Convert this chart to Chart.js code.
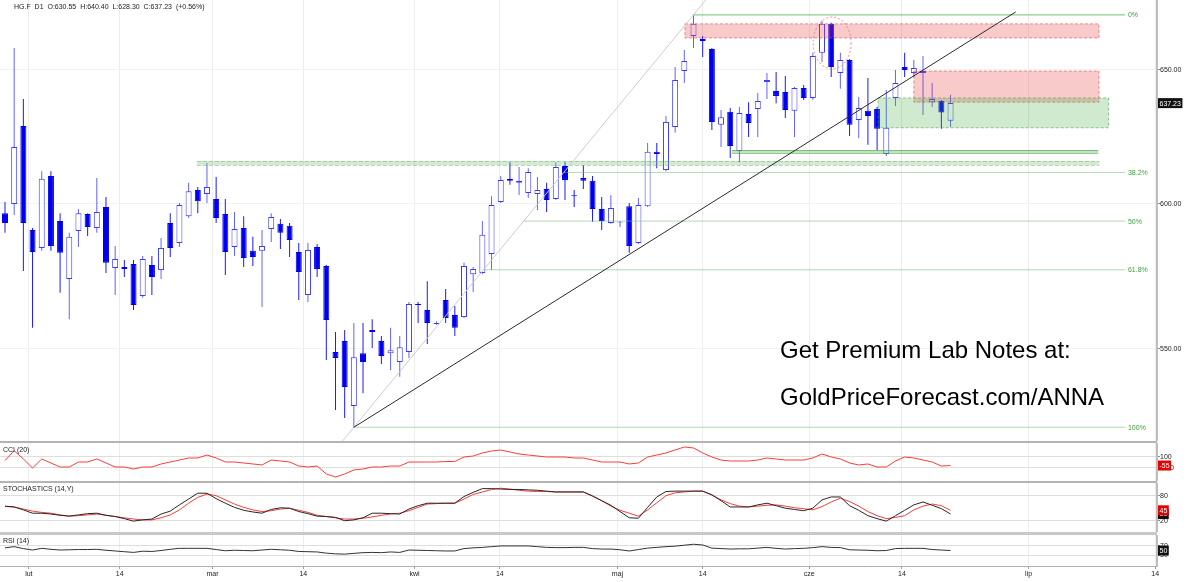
<!DOCTYPE html>
<html>
<head>
<meta charset="utf-8">
<title>HG.F D1</title>
<script src="https://cdn.jsdelivr.net/npm/chart.js@4.4.1/dist/chart.umd.min.js"></script>
<style>
    html, body { margin: 0; padding: 0; background: #fff; }
    #wrap { position: relative; width: 1200px; height: 582px; overflow: hidden; font-family: "Liberation Sans", Arial, sans-serif; }
    #wrap canvas { position: absolute; left: 0; }
    .sep { position: absolute; left: 0; width: 1157px; background: #b4b4b4; }
    .txt { position: absolute; font-size: 7px; line-height: 7px; color: #222; white-space: pre; }
    .promo { position: absolute; left: 780px; font-size: 24px; line-height: 24px; color: #000; white-space: pre; }
</style>
</head>
<body>
<div id="wrap">
    <canvas id="mainChart" width="1200" height="441" style="top:0"></canvas>
    <canvas id="cciChart" width="1200" height="38" style="top:443px"></canvas>
    <canvas id="stochChart" width="1200" height="49" style="top:483px"></canvas>
    <canvas id="rsiChart" width="1200" height="47" style="top:535px"></canvas>
    <div class="sep" style="top:441px;height:2px"></div>
    <div class="sep" style="top:481px;height:2px"></div>
    <div class="sep" style="top:532px;height:3px;background:#c8c8c8"></div>
    <div class="txt" id="header" style="left:14px;top:3px"></div>
    <div class="txt" style="left:3px;top:446px">CCI (20)</div>
    <div class="txt" style="left:3px;top:485px">STOCHASTICS (14,Y)</div>
    <div class="txt" style="left:3px;top:537px">RSI (14)</div>
    <div class="promo" style="top:338px">Get Premium Lab Notes at:</div>
    <div class="promo" style="top:385px">GoldPriceForecast.com/ANNA</div>
</div>
<script>
// candle index positions of the month / mid-month ticks
const xTickPositions = [2.6, 12.5, 22.6, 32.5, 44.6, 53.9, 66.7, 76.0, 87.6, 97.7, 111.5, 125.3];
const xTickLabels = ['lut', '14', 'mar', '14', 'kwi', '14', 'maj', '14', 'cze', '14', 'lip', '14'];
const priceTicks = [550, 600, 650];
const cciTicks = [-100, 100];
const stochTicks = [20, 80];
const rsiTicks = [30, 70];

const opens = [
    596.6, 599.9, 628.6, 590.6, 584.3, 610.0, 593.8, 573.5, 590.3, 596.3,
    591.3, 598.8, 577.3, 577.7, 578.7, 567.7, 578.4, 576.6, 593.1, 586.0,
    595.5, 604.9, 603.5, 601.7, 596.3, 584.6, 591.3, 583.3, 583.3, 591.0,
    592.8, 592.1, 582.9, 568.1, 584.6, 578.0, 549.0, 552.6, 531.5, 548.6,
    556.3, 552.6, 548.6, 545.7, 549.0, 565.0, 563.0, 558.3, 566.4, 561.3,
    560.6, 575.2, 575.6, 582.2, 600.6, 609.0, 607.6, 603.8, 603.5, 605.3,
    601.7, 613.7, 603.0, 609.3, 608.3, 598.1, 593.1, 593.3, 599.1, 586.0,
    599.1, 618.9, 612.2, 628.2, 649.6, 663.4, 662.2, 658.2, 629.0, 633.9,
    619.2, 633.1, 635.0, 645.3, 641.9, 641.5, 634.3, 643.0, 639.2, 656.7,
    668.2, 648.8, 653.9, 630.8, 634.3, 635.0, 618.1, 639.2, 651.2, 648.8,
    648.8, 637.6, 638.0, 630.55,
];
const highs = [
    600.6, 658.6, 638.8, 591.3, 611.8, 611.8, 596.6, 589.6, 598.1, 596.6,
    609.3, 602.4, 585.0, 580.1, 580.1, 581.5, 581.5, 587.8, 596.6, 600.2,
    607.6, 606.0, 614.8, 609.7, 601.7, 597.0, 595.5, 588.2, 590.6, 596.6,
    594.5, 593.1, 586.0, 586.0, 585.7, 578.4, 555.6, 556.3, 558.6, 558.6,
    559.9, 554.3, 557.0, 554.3, 565.7, 565.7, 572.8, 559.2, 570.1, 564.3,
    579.1, 577.7, 593.8, 602.7, 610.0, 615.1, 613.3, 612.9, 609.7, 607.6,
    615.1, 615.1, 604.9, 614.0, 610.0, 602.4, 603.1, 593.8, 600.2, 602.0,
    622.2, 622.2, 632.3, 651.2, 657.8, 671.8, 663.4, 658.6, 634.6, 635.4,
    635.8, 637.6, 641.1, 648.8, 649.2, 647.7, 643.4, 644.2, 656.7, 669.4,
    668.6, 656.7, 654.3, 639.6, 646.9, 635.8, 642.3, 650.0, 656.7, 653.9,
    655.5, 645.0, 638.4, 640.40,
];
const lows = [
    589.6, 595.9, 576.3, 557.0, 583.3, 583.3, 568.8, 559.9, 584.6, 588.5,
    589.6, 575.6, 568.1, 574.2, 563.0, 567.1, 568.1, 573.5, 581.1, 584.6,
    594.9, 596.6, 600.2, 593.1, 574.9, 581.5, 577.7, 578.0, 564.0, 586.4,
    583.9, 581.1, 566.4, 565.7, 574.2, 546.4, 530.3, 527.7, 524.8, 535.6,
    550.3, 545.1, 543.1, 540.9, 547.0, 558.6, 551.6, 558.0, 558.6, 554.3,
    560.3, 569.1, 575.2, 576.6, 600.2, 606.8, 603.1, 602.0, 597.7, 597.0,
    601.3, 601.3, 598.8, 605.3, 593.5, 590.6, 592.8, 591.7, 582.6, 585.7,
    598.8, 612.9, 611.8, 626.0, 645.0, 658.6, 655.1, 627.1, 620.7, 616.6,
    615.1, 624.4, 624.4, 638.8, 637.2, 631.6, 624.4, 638.4, 638.4, 653.1,
    647.3, 642.7, 624.8, 624.0, 621.5, 619.6, 617.4, 636.1, 647.3, 647.3,
    632.7, 635.8, 627.5, 628.30,
];
const closes = [
    593.1, 620.7, 593.1, 582.9, 609.0, 585.0, 582.6, 588.2, 596.6, 591.7,
    597.0, 579.1, 580.4, 577.0, 564.7, 580.4, 574.2, 584.3, 584.3, 599.5,
    604.5, 600.9, 606.0, 594.9, 582.9, 591.0, 580.8, 581.1, 585.0, 595.2,
    589.6, 587.1, 575.9, 583.6, 577.0, 559.6, 547.0, 537.6, 547.3, 545.7,
    555.6, 547.7, 549.6, 550.6, 565.0, 564.7, 558.6, 558.6, 560.3, 557.0,
    578.0, 577.0, 588.9, 599.5, 608.6, 608.3, 608.3, 611.5, 604.9, 601.3,
    613.3, 608.6, 602.7, 608.3, 598.1, 593.8, 598.4, 593.5, 585.0, 599.5,
    618.9, 618.1, 630.1, 646.1, 653.5, 668.2, 661.4, 630.1, 631.9, 621.1,
    633.5, 629.7, 638.0, 646.1, 640.0, 634.6, 643.0, 639.2, 655.5, 668.2,
    651.2, 653.9, 629.0, 635.4, 632.3, 627.5, 627.9, 645.0, 650.0, 650.8,
    649.6, 638.8, 633.7, 637.23,
];

const cci = [
    36, 215, 64, -100, 64, -9, -82, -82, 9, 9,
    64, -9, -82, -82, -118, -82, -82, -27, 9, 45,
    82, 82, 136, 82, 9, 9, -9, -27, -45, 45,
    27, 9, -64, -82, -64, -209, -264, -209, -136, -118,
    -82, -82, -64, -64, 9, 9, 9, 9, 18, 18,
    100, 118, 173, 209, 227, 191, 155, 136, 118, 100,
    100, 100, 82, 82, 45, 9, 9, 9, -27, -9,
    100, 136, 173, 227, 282, 264, 173, 100, 45, 27,
    27, 27, 45, 82, 64, 45, 45, 45, 82, 155,
    100, 64, -9, -45, -27, -82, -82, 27, 100, 82,
    45, 9, -64, -55,
];
const stochK = [
    55, 53, 46, 38, 38, 36, 33, 31, 34, 37,
    38, 33, 30, 25, 19, 22, 24, 36, 43, 58,
    72, 86, 86, 73, 62, 52, 45, 41, 38, 47,
    51, 50, 42, 37, 31, 30, 28, 20, 22, 27,
    38, 38, 37, 36, 48, 56, 62, 62, 62, 62,
    78, 88, 97, 97, 96, 95, 95, 94, 93, 91,
    89, 89, 89, 89, 79, 68, 57, 42, 27, 26,
    52, 77, 90, 91, 91, 91, 91, 82, 68, 53,
    53, 53, 58, 62, 56, 50, 47, 44, 50, 70,
    77, 77, 56, 45, 32, 25, 19, 32, 45, 58,
    65, 57, 49, 36,
];
const stochD = [
    54, 53, 48, 43, 40, 38, 34, 31, 32, 34,
    36, 33, 30, 27, 24, 22, 22, 27, 34, 46,
    62, 76, 84, 80, 70, 60, 52, 46, 42, 44,
    48, 50, 45, 40, 33, 30, 27, 24, 24, 26,
    29, 33, 36, 38, 44, 52, 60, 61, 62, 62,
    72, 83, 89, 95, 98, 96, 93, 91, 90, 90,
    89, 89, 89, 89, 80, 68, 55, 45, 38, 31,
    46, 63, 80, 87, 89, 91, 91, 82, 70, 61,
    55, 53, 55, 57, 58, 55, 51, 49, 46, 54,
    65, 74, 66, 55, 42, 32, 25, 28, 32, 46,
    55, 60, 56, 45,
];
const rsi = [
    61, 66, 58, 52, 59, 55, 52, 53, 54, 54,
    55, 51, 48, 45, 42, 47, 46, 50, 55, 59,
    59, 59, 59, 54, 49, 51, 50, 49, 52, 55,
    53, 51, 46, 45, 44, 39, 36, 35, 38, 41,
    42, 41, 44, 42, 52, 51, 50, 49, 48, 48,
    58, 61, 63, 66, 69, 69, 69, 69, 66, 63,
    62, 62, 63, 63, 58, 56, 56, 53, 48, 54,
    60, 63, 66, 68, 72, 76, 73, 60, 58, 56,
    57, 57, 60, 63, 59, 56, 58, 59, 62, 66,
    63, 62, 53, 52, 51, 49, 50, 58, 59, 59,
    59, 54, 52, 50,
];

// drawing tools
const fibRatios = [0, 0.382, 0.5, 0.618, 1];
const fibLabels = ['0%', '38.2%', '50%', '61.8%', '100%'];
const fibLowIndex = 38;
const fibHighIndex = 75;
const fibEndIndex = 122;
const trendEnd = { x: 110.1, y: 673.0 };
const resistanceZones = [
    { from: 74.07, to: 119.17, low: 662.6, high: 668.2 },
    { from: 99.0, to: 119.17, low: 637.6, high: 649.6 },
];
const supportZones = [
    { from: 95.1, to: 120.2, low: 627.9, high: 639.2 },
];
const supportBands = [
    { from: 79.2, to: 119.1, low: 618.5, high: 619.6 },
    { from: 20.9, to: 119.2, low: 614.0, high: 615.5 },
];
const markedTop = { x: 90.1, y: 660.6 };

window.addEventListener('DOMContentLoaded', () => {
    Chart.defaults.font.family = '"Liberation Sans", Arial, sans-serif';
    Chart.defaults.font.size = 7;
    Chart.defaults.color = '#222';

    const xMin = -0.545;
    const xMax = 125.49;
    const priceMin = 520.51;
    const priceMax = 677.82;
    const font7 = '7px "Liberation Sans", Arial, sans-serif';
    const indices = closes.map((_, i) => i);
    const isUp = (i) => closes[i] >= opens[i];
    const last = closes.length - 1;

    const change = (closes[last] / closes[last - 1] - 1) * 100;
    document.getElementById('header').textContent =
        `HG.F  D1  O:${opens[last].toFixed(2)}  H:${highs[last].toFixed(2)}  L:${lows[last].toFixed(2)}  C:${closes[last].toFixed(2)}  (${change >= 0 ? '+' : ''}${change.toFixed(2)}%)`;

    const xAxis = (showLabels) => ({
        type: 'linear',
        min: xMin,
        max: xMax,
        offset: false,
        afterBuildTicks: (scale) => {
            scale.ticks = xTickPositions.map((value) => ({ value }));
        },
        afterFit: (scale) => {
            scale.height = showLabels ? 16 : 0;
            scale.paddingLeft = 0;
            scale.paddingRight = 0;
        },
        ticks: {
            display: showLabels,
            autoSkip: false,
            maxRotation: 0,
            padding: 1,
            color: '#222',
            callback: (value, index) => xTickLabels[index],
        },
        grid: {
            color: '#ededed',
            offset: false,
            drawTicks: showLabels,
            tickLength: 3,
            tickColor: '#9a9a9a',
        },
        border: { display: showLabels, color: '#b0b0b0', width: 1 },
    });

    const yAxis = (type, min, max, ticks, format) => ({
        type,
        position: 'right',
        min,
        max,
        afterBuildTicks: (scale) => {
            scale.ticks = ticks.map((value) => ({ value }));
        },
        afterFit: (scale) => {
            scale.width = 43;
            scale.paddingTop = 0;
            scale.paddingBottom = 0;
        },
        ticks: {
            padding: 0,
            color: '#222',
            callback: format,
        },
        grid: {
            color: type === 'logarithmic' ? '#f1f1f1' : '#dedede',
            tickLength: 3,
            tickColor: '#888',
        },
        border: { display: true, color: '#bdbdbd', width: 2 },
    });

    const baseOptions = (scales) => ({
        responsive: false,
        animation: false,
        devicePixelRatio: 1,
        events: [],
        layout: { padding: 0 },
        plugins: { legend: { display: false }, tooltip: { enabled: false } },
        scales,
    });

    const valueBoxes = (items) => ({
        id: 'valueBoxes',
        afterDraw(chart) {
            const { ctx, chartArea, scales } = chart;
            ctx.save();
            ctx.font = font7;
            ctx.textBaseline = 'middle';
            items.forEach(({ value, text, fill }) => {
                const py = scales.y.getPixelForValue(value);
                const w = ctx.measureText(text).width + 3;
                ctx.fillStyle = fill;
                ctx.fillRect(chartArea.right + 1, py - 5, w, 10);
                ctx.fillStyle = '#fff';
                ctx.fillText(text, chartArea.right + 2.5, py + 0.5);
            });
            ctx.restore();
        },
    });

    // zones and bands go over the candles, under the lines
    const zonePlugin = {
        id: 'zones',
        afterDatasetDraw(chart, args) {
            if (args.index !== 1) {
                return;
            }
            const { ctx, chartArea, scales: { x, y } } = chart;
            const box = (z) => {
                const x0 = x.getPixelForValue(z.from);
                const x1 = x.getPixelForValue(z.to);
                const y0 = y.getPixelForValue(z.high);
                const y1 = y.getPixelForValue(z.low);
                return [x0, y0, x1 - x0, y1 - y0];
            };
            ctx.save();
            ctx.beginPath();
            ctx.rect(chartArea.left, chartArea.top, chartArea.width, chartArea.height);
            ctx.clip();
            ctx.lineWidth = 1;
            ctx.setLineDash([3, 2]);
            resistanceZones.forEach((z) => {
                const r = box(z);
                ctx.fillStyle = 'rgba(228, 60, 60, 0.27)';
                ctx.fillRect(...r);
                ctx.strokeStyle = 'rgba(225, 60, 60, 0.55)';
                ctx.strokeRect(...r);
            });
            supportZones.forEach((z) => {
                const r = box(z);
                ctx.fillStyle = 'rgba(70, 175, 70, 0.26)';
                ctx.fillRect(...r);
                ctx.strokeStyle = 'rgba(60, 160, 60, 0.55)';
                ctx.strokeRect(...r);
            });
            supportBands.forEach((z, k) => {
                const [bx, by, bw, bh] = box(z);
                ctx.fillStyle = k === 0 ? 'rgba(90, 180, 90, 0.38)' : 'rgba(110, 190, 110, 0.3)';
                ctx.fillRect(bx, by, bw, bh);
                ctx.setLineDash(k === 0 ? [] : [4, 2]);
                ctx.strokeStyle = k === 0 ? 'rgba(70, 160, 70, 0.55)' : 'rgba(80, 165, 80, 0.4)';
                ctx.beginPath();
                ctx.moveTo(bx, Math.round(by) + 0.5);
                ctx.lineTo(bx + bw, Math.round(by) + 0.5);
                ctx.moveTo(bx, Math.round(by + bh) + 0.5);
                ctx.lineTo(bx + bw, Math.round(by + bh) + 0.5);
                ctx.stroke();
            });
            ctx.restore();
        },
        afterDatasetsDraw(chart) {
            const { ctx, scales: { x, y } } = chart;
            ctx.save();
            // circled double top
            ctx.setLineDash([2, 2]);
            ctx.strokeStyle = 'rgba(238, 110, 110, 0.75)';
            ctx.lineWidth = 1;
            ctx.beginPath();
            ctx.ellipse(x.getPixelForValue(markedTop.x), y.getPixelForValue(markedTop.y), 19, 26, 0, 0, Math.PI * 2);
            ctx.stroke();
            // fibonacci labels
            ctx.setLineDash([]);
            ctx.font = font7;
            ctx.textBaseline = 'middle';
            ctx.fillStyle = '#3c9f3c';
            fibLevels.forEach((level, k) => {
                ctx.fillText(fibLabels[k], x.getPixelForValue(fibEndIndex) + 3, y.getPixelForValue(level.price) + 0.5);
            });
            ctx.restore();
        },
    };

    const logLow = Math.log(lows[fibLowIndex]);
    const logHigh = Math.log(highs[fibHighIndex]);
    const fibPrice = (i) => Math.exp(logLow + ((i - fibLowIndex) / (fibHighIndex - fibLowIndex)) * (logHigh - logLow));
    const fibLevels = fibRatios.map((r) => ({
        price: Math.exp(logHigh - r * (logHigh - logLow)),
        start: fibHighIndex - r * (fibHighIndex - fibLowIndex),
    }));

    const lineSet = (data, color, order, width = 1) => ({
        type: 'line',
        data,
        borderColor: color,
        borderWidth: width,
        pointRadius: 0,
        tension: 0,
        fill: false,
        order,
    });

    new Chart(document.getElementById('mainChart'), {
        type: 'bar',
        data: {
            datasets: [
                {
                    type: 'bar',
                    data: indices.map((i) => ({ x: i, y: [lows[i], highs[i]] })),
                    backgroundColor: indices.map((i) => (isUp(i) ? 'rgba(60, 60, 255, 0.8)' : '#1a1aff')),
                    borderWidth: 0,
                    barThickness: 1,
                    grouped: false,
                    inflateAmount: 0,
                    order: 9,
                },
                {
                    type: 'bar',
                    data: indices.map((i) => ({ x: i, y: [opens[i], closes[i]] })),
                    backgroundColor: indices.map((i) => (isUp(i) ? '#ffffff' : '#0000ee')),
                    borderColor: indices.map((i) => (isUp(i) ? '#3a3aff' : '#0000ee')),
                    borderWidth: 1,
                    borderSkipped: false,
                    barThickness: 6,
                    grouped: false,
                    inflateAmount: 0,
                    order: 8,
                },
                lineSet([36.5, 77].map((i) => ({ x: i, y: fibPrice(i) })), '#cdcdcd', 4),
                ...fibLevels.map((level, k) => lineSet(
                    [{ x: level.start, y: level.price }, { x: fibEndIndex, y: level.price }],
                    k === 0 ? 'rgba(70, 170, 70, 0.75)' : 'rgba(110, 190, 110, 0.55)',
                    3,
                )),
                lineSet([{ x: fibLowIndex, y: lows[fibLowIndex] }, trendEnd], '#2b2b2b', 1),
            ],
        },
        options: baseOptions({
            x: xAxis(false),
            y: yAxis('logarithmic', priceMin, priceMax, priceTicks, (v) => Number(v).toFixed(2)),
        }),
        plugins: [zonePlugin, valueBoxes([{ value: closes[last], text: closes[last].toFixed(2), fill: '#111' }])],
    });

    new Chart(document.getElementById('cciChart'), {
        type: 'line',
        data: {
            datasets: [lineSet(indices.map((i) => ({ x: i, y: cci[i] })), '#ff3c3c', 1)],
        },
        options: baseOptions({
            x: xAxis(false),
            y: yAxis('linear', -336.4, 354.5, cciTicks, (v) => String(v)),
        }),
        plugins: [valueBoxes([{ value: cci[last], text: String(cci[last]), fill: '#e60000' }])],
    });

    new Chart(document.getElementById('stochChart'), {
        type: 'line',
        data: {
            datasets: [
                lineSet(indices.map((i) => ({ x: i, y: stochD[i] })), '#ff3c3c', 2),
                lineSet(indices.map((i) => ({ x: i, y: stochK[i] })), '#262626', 1),
            ],
        },
        options: baseOptions({
            x: xAxis(false),
            y: yAxis('linear', -7.1, 110.5, stochTicks, (v) => String(v)),
        }),
        plugins: [valueBoxes([
            { value: stochK[last], text: String(stochK[last]), fill: '#111' },
            { value: stochD[last], text: String(stochD[last]), fill: '#e60000' },
        ])],
    });

    new Chart(document.getElementById('rsiChart'), {
        type: 'line',
        data: {
            datasets: [lineSet(indices.map((i) => ({ x: i, y: rsi[i] })), '#333333', 1)],
        },
        options: baseOptions({
            x: xAxis(true),
            y: yAxis('linear', -14.6, 114.6, rsiTicks, (v) => String(v)),
        }),
        plugins: [valueBoxes([{ value: rsi[last], text: String(rsi[last]), fill: '#111' }])],
    });
});
</script>
</body>
</html>
